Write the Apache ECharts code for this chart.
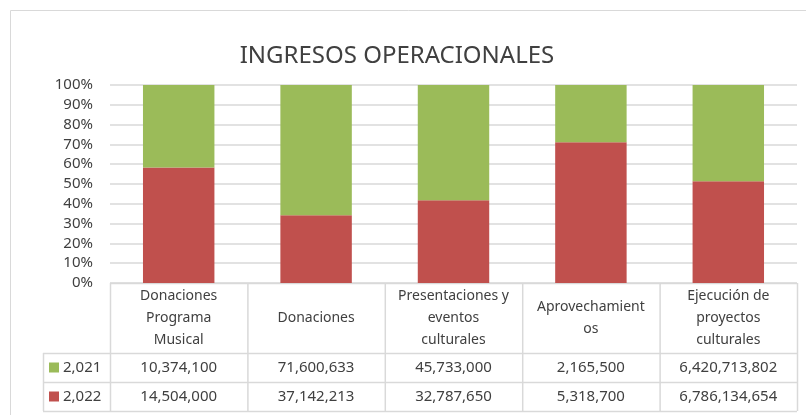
<!DOCTYPE html>
<html>
<head>
<meta charset="utf-8">
<script src="https://cdn.jsdelivr.net/npm/echarts@6/dist/echarts.min.js"></script>
<style>
  html, body { margin: 0; padding: 0; background: #fff; }
  #chart { width: 806px; height: 415px; }
</style>
</head>
<body>
<div id="chart"></div>
<script>
// categorias y valores
var categories = ['Donaciones\nPrograma\nMusical', 'Donaciones', 'Presentaciones y\neventos\nculturales', 'Aprovechamient\nos', 'Ejecución de\nproyectos\nculturales'];
var seriesNames = ['2,021', '2,022'];
var values2021 = [10374100, 71600633, 45733000, 2165500, 6420713802];
var values2022 = [14504000, 37142213, 32787650, 5318700, 6786134654];
var yTicks = [0, 10, 20, 30, 40, 50, 60, 70, 80, 90, 100];

var green = '#9BBB59', red = '#C0504D', gridColor = '#d9d9d9', txt = '#404040';
var font = 'Noto Sans';

// porcentaje de cada año sobre el total de la categoria (grafico 100% apilado)
var pct2022 = values2022.map(function (v, i) { return v / (v + values2021[i]) * 100; });
var pct2021 = values2021.map(function (v, i) { return v / (v + values2022[i]) * 100; });

function fmt(n) { return n.toLocaleString('en-US'); }

var L = 110, R = 797, T = 85, B = 283;
var rowH = [70, 29, 29];
var colW = (R - L) / categories.length;

var graphics = [];
// bordes del grafico
graphics.push({ type: 'line', shape: { x1: 10.5, y1: 10.5, x2: 806, y2: 10.5 }, style: { stroke: gridColor, lineWidth: 1 } });
graphics.push({ type: 'line', shape: { x1: 10.5, y1: 10.5, x2: 10.5, y2: 415 }, style: { stroke: gridColor, lineWidth: 1 } });

// tabla de datos
var y0 = B, y1 = B + rowH[0], y2 = y1 + rowH[1], y3 = y2 + rowH[2];
var lx = 43;
function hline(x1, x2, y) { graphics.push({ type: 'line', shape: { x1: x1, y1: y + 0.5, x2: x2, y2: y + 0.5 }, style: { stroke: gridColor, lineWidth: 1.5 } }); }
function vline(x, ya, yb) { graphics.push({ type: 'line', shape: { x1: x + 0.5, y1: ya, x2: x + 0.5, y2: yb }, style: { stroke: gridColor, lineWidth: 1.5 } }); }
hline(L, R, y0);
hline(lx, R, y1);
hline(lx, R, y2);
hline(lx, R, y3);
vline(lx, y1, y3);
for (var c = 0; c <= categories.length; c++) vline(L + c * colW, y0, y3);

var rows = [values2021, values2022];
var rowColors = [green, red];
rows.forEach(function (vals, r) {
  var cy = (r === 0 ? (y1 + y2) / 2 : (y2 + y3) / 2);
  graphics.push({ type: 'rect', shape: { x: 49, y: cy - 5, width: 10, height: 10 }, style: { fill: rowColors[r] } });
  graphics.push({ type: 'text', x: 63, y: cy, style: { text: seriesNames[r], font: '15px ' + font, fill: txt, verticalAlign: 'middle', align: 'left' } });
  vals.forEach(function (v, i) {
    graphics.push({ type: 'text', x: L + colW * (i + 0.5), y: cy, style: { text: fmt(v), font: '15px ' + font, fill: txt, align: 'center', verticalAlign: 'middle' } });
  });
});

var chart = echarts.init(document.getElementById('chart'));
chart.setOption({
  animation: false,
  textStyle: { fontFamily: font },
  title: {
    text: 'INGRESOS OPERACIONALES',
    left: 392, top: 39, textAlign: 'center',
    textStyle: { fontSize: 24, fontWeight: 'normal', color: '#404040', fontFamily: font }
  },
  grid: { left: L, right: 806 - R, top: T, bottom: 415 - B },
  xAxis: {
    type: 'category',
    data: categories,
    axisLine: { show: false },
    axisTick: { show: false },
    axisLabel: { interval: 0, margin: 35, verticalAlign: 'middle', align: 'center', fontSize: 14, lineHeight: 22, color: txt, fontFamily: font }
  },
  yAxis: {
    type: 'value',
    min: yTicks[0], max: yTicks[yTicks.length - 1], interval: 10,
    axisLine: { show: false },
    axisTick: { show: false },
    axisLabel: { formatter: '{value}%', fontSize: 15, color: txt, margin: 17, fontFamily: font },
    splitLine: { lineStyle: { color: gridColor, width: 1.5 } }
  },
  series: [
    { name: seriesNames[1], type: 'bar', stack: 'total', data: pct2022, barWidth: '52%', itemStyle: { color: red } },
    { name: seriesNames[0], type: 'bar', stack: 'total', data: pct2021, itemStyle: { color: green } }
  ],
  graphic: graphics
});
</script>
</body>
</html>
